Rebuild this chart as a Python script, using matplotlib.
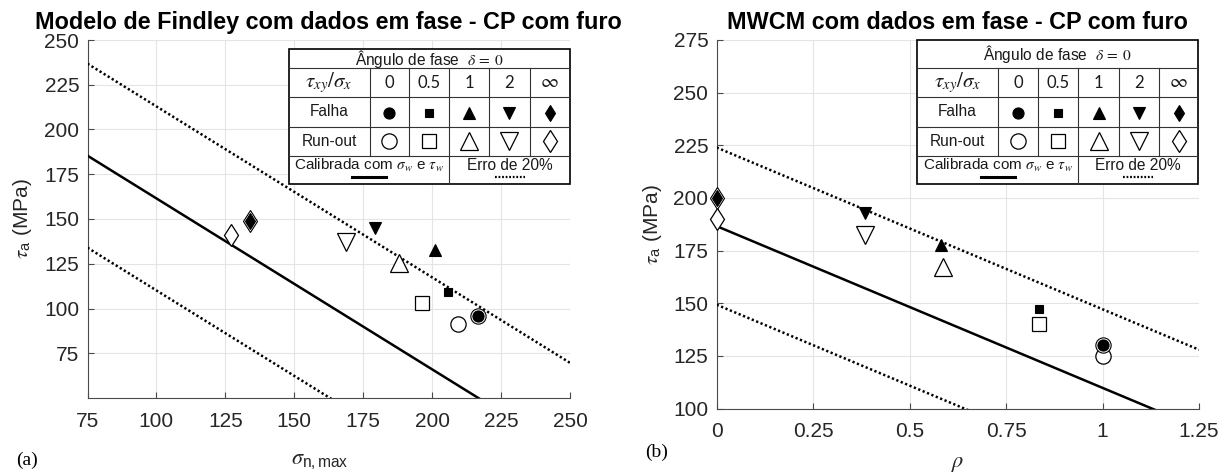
import matplotlib
matplotlib.use("Agg")
import matplotlib.pyplot as plt
from matplotlib.lines import Line2D
import numpy as np

plt.rcParams["font.family"] = ["Liberation Sans", "DejaVu Sans"]
plt.rcParams["mathtext.fontset"] = "stix"

# ---------------- data ----------------
ratio_labels = ["0", "0.5", "1", "2", r"$\infty$"]
ratio_markers = ["o", "s", "^", "v", "d"]

# Findley model (sigma_n,max, tau_a)
findley_fail_sigma = [216.8, 205.7, 201.0, 179.3, 134.0]
findley_fail_tau = [95.9, 109.3, 132.5, 144.8, 149.1]
findley_runout_sigma = [209.2, 196.2, 187.8, 168.8, 127.0]
findley_runout_tau = [91.4, 103.0, 125.4, 137.3, 141.1]
findley_f = 257.0
findley_k = 0.955

# MWCM (rho, tau_a)
mwcm_fail_rho = [1.0, 0.836, 0.582, 0.384, 0.0]
mwcm_fail_tau = [130.2, 147.3, 177.7, 192.7, 200.0]
mwcm_runout_rho = [1.0, 0.836, 0.586, 0.384, 0.0]
mwcm_runout_tau = [124.9, 140.0, 167.1, 182.5, 190.2]
mwcm_lambda = 186.6
mwcm_kappa = 76.8

# failure points that sit on top of an outlined ring
ring_idx = [0, 4]
error_band = 0.20

# ---------------- figure ----------------
W, H = 1232, 473
fig = plt.figure(figsize=(W / 100, H / 100), dpi=100)

axL = fig.add_axes([87.5 / W, 1 - 398 / H, 482.5 / W, 358 / H])
axR = fig.add_axes([716.7 / W, 1 - 408.5 / H, 482.3 / W, 368.5 / H])

TXT = "#262626"
fill_ms = {"o": 8.0, "s": 6.0, "^": 8.0, "v": 8.0, "d": 8.5}
open_ms = {"o": 11.0, "s": 9.5, "^": 13.5, "v": 13.5, "d": 11.5}
dot_style = (0, (0.9, 1.0))


def style_axes(ax):
    for s in ["top", "right"]:
        ax.spines[s].set_visible(False)
    for s in ["left", "bottom"]:
        ax.spines[s].set_color("#4a4a4a")
        ax.spines[s].set_linewidth(0.8)
    ax.grid(True, color="#e4e4e4", lw=0.8)
    ax.set_axisbelow(True)
    ax.tick_params(direction="in", length=4, width=0.8, color="#4a4a4a",
                   labelcolor=TXT, labelsize=15)
    ax.tick_params(axis="x", pad=10)
    ax.tick_params(axis="y", pad=6)


def draw_points(ax, fx, fy, rx, ry):
    for i, m in enumerate(ratio_markers):
        ax.plot(rx[i], ry[i], m, ms=open_ms[m], mfc="white", mec="black",
                mew=0.9, zorder=4, clip_on=False)
        if i in ring_idx:
            ax.plot(fx[i], fy[i], m, ms=open_ms[m], mfc="white", mec="black",
                    mew=0.8, zorder=5, clip_on=False)
        ax.plot(fx[i], fy[i], m, ms=fill_ms[m], mfc="black", mec="black",
                mew=0.8, zorder=6, clip_on=False)


# ---- (a) Findley ----
style_axes(axL)
sig = np.array([75.0, 250.0])
axL.plot(sig, findley_f - findley_k * sig, color="black", lw=1.8, zorder=3)
for fac in (1 + error_band, 1 - error_band):
    axL.plot(sig, fac * findley_f - findley_k * sig, color="black", lw=1.8,
             ls=dot_style, zorder=3)
draw_points(axL, findley_fail_sigma, findley_fail_tau,
            findley_runout_sigma, findley_runout_tau)
axL.set_xlim(75, 250)
axL.set_ylim(50, 250)
axL.set_xticks(np.arange(75, 251, 25))
axL.set_yticks(np.arange(75, 251, 25))
axL.set_title("Modelo de Findley com dados em fase - CP com furo",
              fontsize=16.8, fontweight="bold", pad=8)
axL.set_ylabel(r"$\tau_\mathregular{a}$ (MPa)", fontsize=15, color=TXT)
axL.yaxis.set_label_coords(-0.111, 0.5)
axL.set_xlabel(r"$\sigma_{\mathregular{n,max}}$", fontsize=16, color=TXT)
axL.xaxis.set_label_coords(0.482, -0.145)

# ---- (b) MWCM ----
style_axes(axR)
rho = np.array([0.0, 1.25])
axR.plot(rho, mwcm_lambda - mwcm_kappa * rho, color="black", lw=1.8, zorder=3)
for fac in (1 + error_band, 1 - error_band):
    axR.plot(rho, fac * mwcm_lambda - mwcm_kappa * rho, color="black", lw=1.8,
             ls=dot_style, zorder=3)
draw_points(axR, mwcm_fail_rho, mwcm_fail_tau, mwcm_runout_rho, mwcm_runout_tau)
axR.set_xlim(0, 1.25)
axR.set_ylim(100, 275)
axR.set_xticks([0, 0.25, 0.5, 0.75, 1, 1.25])
axR.set_xticklabels(["0", "0.25", "0.5", "0.75", "1", "1.25"])
axR.set_yticks(np.arange(100, 276, 25))
axR.set_title("MWCM com dados em fase - CP com furo",
              fontsize=16.8, fontweight="bold", pad=8)
axR.set_ylabel(r"$\tau_\mathregular{a}$ (MPa)", fontsize=15, color=TXT)
axR.yaxis.set_label_coords(-0.109, 0.5)
axR.set_xlabel(r"$\rho$", fontsize=16, color=TXT)
axR.xaxis.set_label_coords(0.5, -0.121)

fig.text(16 / W, 1 - 460 / H, "(a)", family="Liberation Serif", fontsize=14,
         va="center", ha="left")
fig.text(645 / W, 1 - 452 / H, "(b)", family="Liberation Serif", fontsize=14,
         va="center", ha="left")


# ---------------- marker key tables ----------------
def P(x, y):
    return (x / W, 1 - y / H)


def hline(x0, x1, y, lw=0.8, color="#333333", ls="-"):
    a, b = P(x0, y), P(x1, y)
    fig.add_artist(Line2D([a[0], b[0]], [a[1], b[1]], lw=lw, color=color,
                          ls=ls, transform=fig.transFigure, zorder=10))


def vline(x, y0, y1, lw=0.8, color="#333333"):
    a, b = P(x, y0), P(x, y1)
    fig.add_artist(Line2D([a[0], b[0]], [a[1], b[1]], lw=lw, color=color,
                          transform=fig.transFigure, zorder=10))


def ftext(x, y, s, **kw):
    kw.setdefault("fontsize", 11)
    kw.setdefault("color", "#1a1a1a")
    fig.text(*P(x, y), s, ha="center", va="center", zorder=11, **kw)


def marker(x, y, m, filled):
    a = P(x, y)
    if filled:
        art = Line2D([a[0]], [a[1]], marker=m, ms=fill_ms[m], mfc="black",
                     mec="black", mew=0.8, ls="none", transform=fig.transFigure)
    else:
        art = Line2D([a[0]], [a[1]], marker=m, ms=open_ms[m], mfc="white",
                     mec="black", mew=0.9, ls="none", transform=fig.transFigure)
    art.set_zorder(11)
    fig.add_artist(art)


def key_table(cols, rows, split):
    x0, x1 = cols[0], cols[-1]
    y0, y1 = rows[0], rows[-1]
    bg = plt.Rectangle(P(x0, y1), (x1 - x0) / W, (y1 - y0) / H,
                       transform=fig.transFigure, facecolor="white",
                       edgecolor="black", lw=1.2, zorder=9)
    fig.add_artist(bg)
    for y in rows[1:-1]:
        hline(x0, x1, y)
    for x in cols[1:-1]:
        vline(x, rows[1], rows[4])
    vline(split, rows[4], rows[5])

    xm = 0.5 * (x0 + x1)
    ftext(xm, 0.5 * (rows[0] + rows[1]), r"Ângulo de fase  $\delta\,=\,\,0$",
          fontsize=11.2)
    r2 = 0.5 * (rows[1] + rows[2])
    r3 = 0.5 * (rows[2] + rows[3])
    r4 = 0.5 * (rows[3] + rows[4])
    c0 = 0.5 * (cols[0] + cols[1])
    ftext(c0, r2, r"$\tau_{xy}/\sigma_x$", fontsize=15)
    ftext(c0, r3, "Falha", fontsize=11.2)
    ftext(c0, r4, "Run-out", fontsize=11.2)
    for i, (lab, m) in enumerate(zip(ratio_labels, ratio_markers)):
        cx = 0.5 * (cols[i + 1] + cols[i + 2])
        if lab.startswith("$"):
            ftext(cx, r2, lab, fontsize=14)
        else:
            ftext(cx, r2, lab, fontsize=12, family=["Lato", "DejaVu Sans"])
        marker(cx, r3 + 1, m, True)
        marker(cx, r4, m, False)
    # line-style key
    ty = rows[4] + 0.36 * (rows[5] - rows[4])
    ly = rows[4] + 0.74 * (rows[5] - rows[4])
    lx = 0.5 * (x0 + split)
    ftext(lx, ty, r"Calibrada com $\sigma_w$ e $\tau_w$", fontsize=11)
    hline(lx - 17, lx + 17, ly, lw=2.2, color="black")
    rx = 0.5 * (split + x1)
    ftext(rx, ty, "Erro de 20%", fontsize=11.2)
    hline(rx - 15, rx + 15, ly, lw=1.6, color="black", ls=(0, (0.8, 0.8)))


key_table([288.5, 369.6, 409.1, 449.4, 489.3, 529.6, 570.0],
          [49.3, 68.3, 97.3, 126.7, 155.7, 184.0], 449.4)
key_table([917.3, 997.7, 1038.3, 1078.3, 1119.0, 1159.3, 1198.3],
          [40.0, 68.3, 97.3, 126.7, 155.7, 184.0], 1078.3)

fig.savefig("out.png", dpi=100)
